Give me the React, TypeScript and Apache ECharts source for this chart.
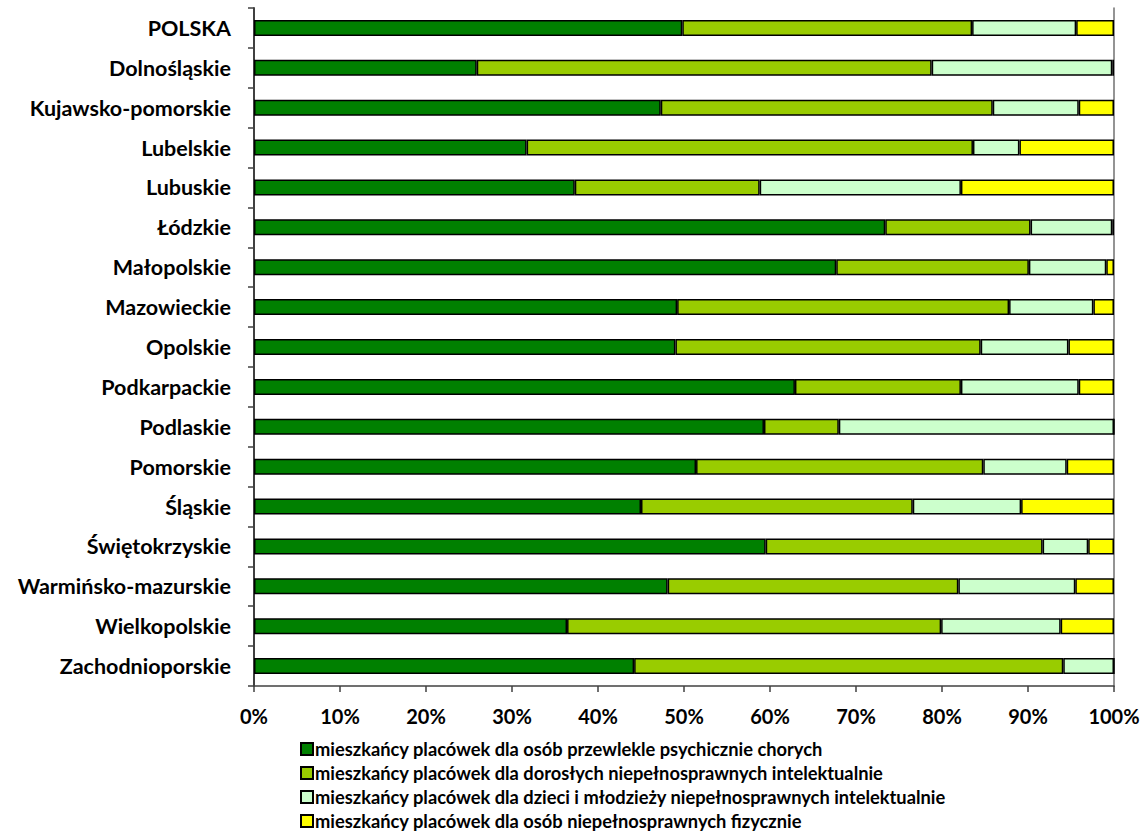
import React, { useEffect, useRef } from "react";
import * as echarts from "echarts";

const categories = [
  "POLSKA",
  "Dolnośląskie",
  "Kujawsko-pomorskie",
  "Lubelskie",
  "Lubuskie",
  "Łódzkie",
  "Małopolskie",
  "Mazowieckie",
  "Opolskie",
  "Podkarpackie",
  "Podlaskie",
  "Pomorskie",
  "Śląskie",
  "Świętokrzyskie",
  "Warmińsko-mazurskie",
  "Wielkopolskie",
  "Zachodnioporskie",
];

const seriesNames = [
  "mieszkańcy placówek dla osób przewlekle psychicznie chorych",
  "mieszkańcy placówek dla dorosłych niepełnosprawnych intelektualnie",
  "mieszkańcy placówek dla dzieci i młodzieży niepełnosprawnych intelektualnie",
  "mieszkańcy placówek dla osób niepełnosprawnych fizycznie",
];

const psychicznie = [49.8, 25.9, 47.3, 31.7, 37.3, 73.4, 67.7, 49.2, 49.0, 62.9, 59.3, 51.4, 45.0, 59.5, 48.1, 36.4, 44.2];
const dorosli = [33.7, 52.9, 38.6, 51.9, 21.5, 16.9, 22.4, 38.6, 35.5, 19.3, 8.7, 33.4, 31.6, 32.2, 33.8, 43.5, 49.9];
const dzieci = [12.1, 21.0, 10.0, 5.4, 23.4, 9.5, 9.0, 9.8, 10.2, 13.7, 32.0, 9.7, 12.6, 5.3, 13.6, 13.9, 5.9];
const fizycznie = [4.4, 0.2, 4.1, 11.0, 17.8, 0.2, 0.9, 2.4, 5.3, 4.1, 0.0, 5.5, 10.8, 3.0, 4.5, 6.2, 0.0];

const colors = ["#008000", "#99CC00", "#CCFFCC", "#FFFF00"];
const xTicks = [0, 10, 20, 30, 40, 50, 60, 70, 80, 90, 100];

const FONT = "Lato, 'Open Sans', sans-serif";

export default function App() {
  const ref = useRef<HTMLDivElement>(null);
  useEffect(() => {
    document.body.style.margin = "0";
    document.body.style.overflow = "hidden";
    if (!ref.current) return;
    const chart = echarts.init(ref.current, null, { renderer: "svg" });
    const dataSets = [psychicznie, dorosli, dzieci, fizycznie];
    chart.setOption({
      animation: false,
      textStyle: { fontFamily: FONT },
      grid: { left: 254, right: 33, top: 8, height: 678 },
      xAxis: {
        type: "value",
        min: 0,
        max: 100,
        interval: 10,
        axisLine: { show: true, lineStyle: { color: "#404040", width: 1.5 } },
        axisTick: { show: true, length: 6, lineStyle: { color: "#404040", width: 1.5 } },
        splitLine: { show: false },
        axisLabel: {
          margin: 20,
          formatter: (v: number) => (xTicks.includes(v) ? v + "%" : ""),
          color: "#000",
          fontSize: 20,
          fontWeight: "bold",
          fontFamily: FONT,
        },
      },
      yAxis: [
        {
          type: "category",
          data: categories,
          inverse: true,
          axisLine: { show: true, lineStyle: { color: "#404040", width: 2 } },
          axisTick: { show: true, length: 6, lineStyle: { color: "#404040", width: 1.5 } },
          axisLabel: {
            margin: 23,
            color: "#000",
            fontSize: 21.5,
            fontWeight: "bold",
            fontFamily: FONT,
          },
        },
        {
          type: "category",
          data: categories,
          inverse: true,
          position: "right",
          axisLine: { show: true, lineStyle: { color: "#707070", width: 1.5 } },
          axisTick: { show: false },
          axisLabel: { show: false },
        },
      ],
      legend: {
        orient: "vertical",
        left: 300,
        top: 740,
        height: 100,
        itemWidth: 12,
        itemHeight: 12,
        itemGap: 6,
        icon: "rect",
        padding: 0,
        textStyle: { fontSize: 18.3, fontWeight: "bold", color: "#000", fontFamily: FONT, padding: [0, 0, 0, -3] },
        data: seriesNames,
      },
      series: dataSets.map((d, i) => ({
        name: seriesNames[i],
        type: "bar",
        stack: "total",
        barWidth: 16,
        data: d,
        itemStyle: { color: colors[i], borderColor: "#000", borderWidth: 1.5 },
        emphasis: { disabled: true },
      })),
    });
    return () => chart.dispose();
  }, []);
  return <div ref={ref} style={{ width: 1147, height: 833 }} />;
}
